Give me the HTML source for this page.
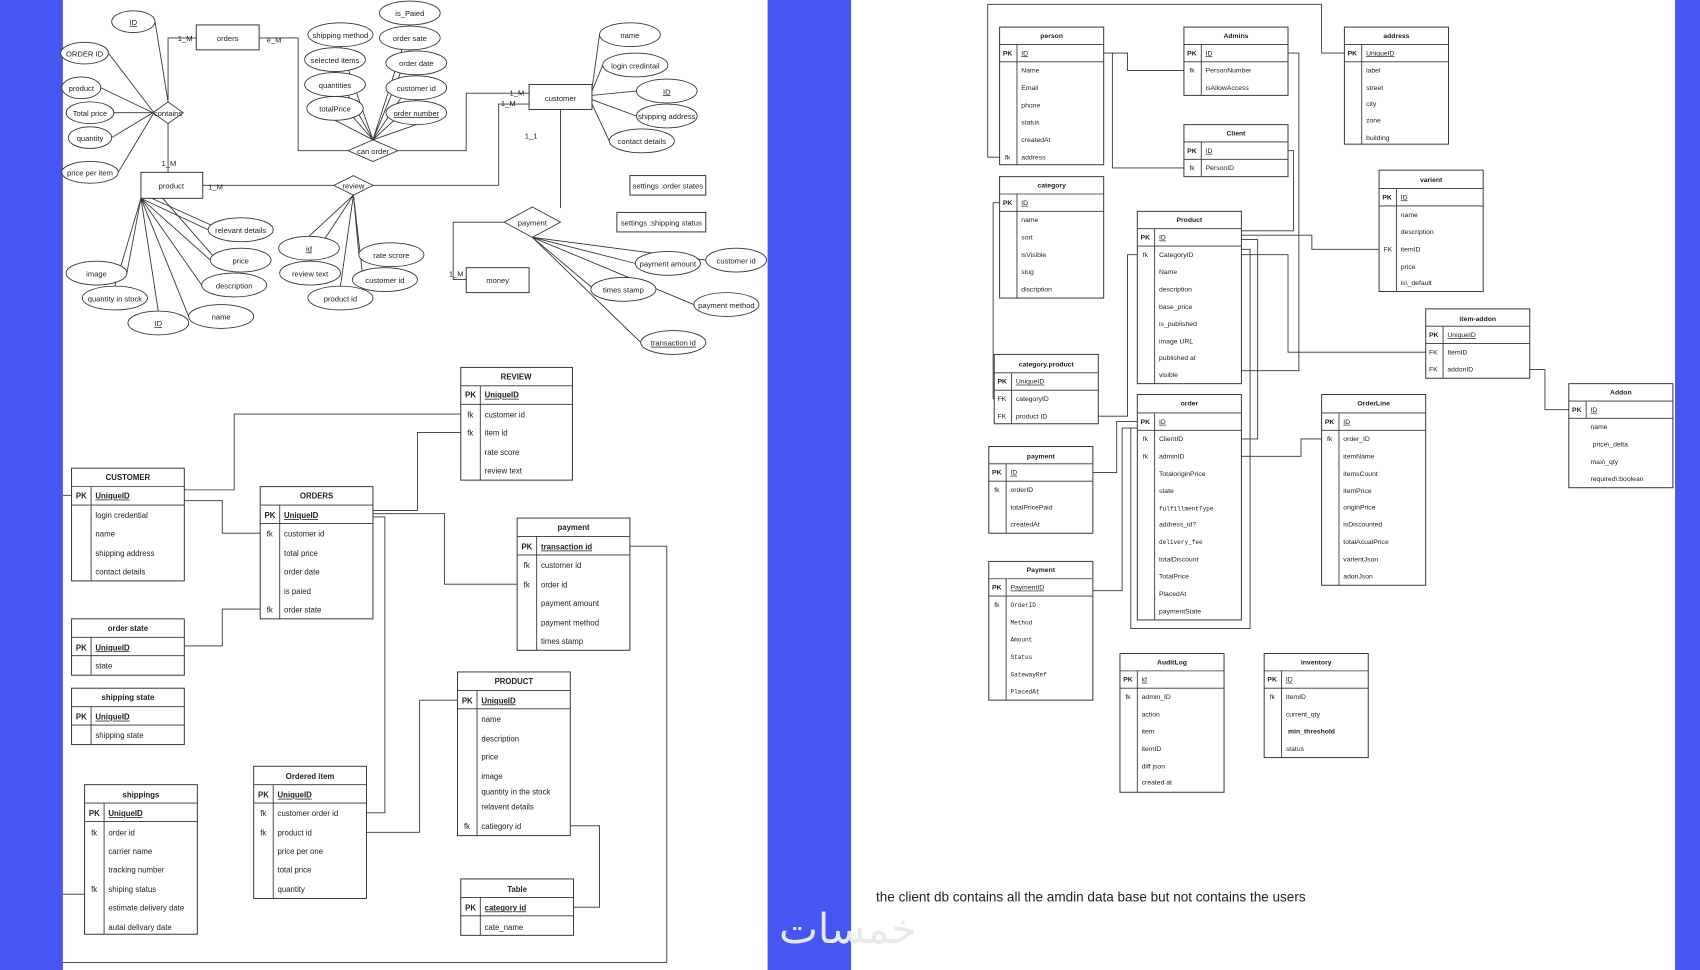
<!DOCTYPE html>
<html><head><meta charset="utf-8"><style>
html,body{margin:0;padding:0;background:#fff;}
svg{display:block}
text{font-family:"Liberation Sans",sans-serif;fill:#222}
.l text{font-size:7.2px}
.r text{font-size:6.3px}
.b{font-weight:bold}
.u{text-decoration:underline}
.m{font-family:"Liberation Mono",monospace !important;font-size:5.6px !important}
rect.t{fill:#fff;stroke:#333;stroke-width:.9}
line,polyline,path{stroke:#333;stroke-width:.8;fill:none}
ellipse{fill:#fff;stroke:#333;stroke-width:.8}
.er text{font-size:7px}
</style></head><body>
<svg width="1700" height="970" viewBox="0 0 1568 895" preserveAspectRatio="none" xmlns="http://www.w3.org/2000/svg">
<rect x="0" y="0" width="1568" height="895" fill="#fff"/>
<rect x="0" y="0" width="58" height="895" fill="#4556f2"/>
<rect x="708" y="0" width="77" height="895" fill="#4556f2"/>
<rect x="1545" y="0" width="23" height="895" fill="#4556f2"/>

<!-- ER diagram top-left -->
<g class="er">
<g>
<line x1="143" y1="20" x2="155" y2="94"/><line x1="100" y1="49" x2="142" y2="104"/><line x1="93" y1="81" x2="141" y2="104"/><line x1="105" y1="104" x2="141" y2="104"/><line x1="103" y1="127" x2="141" y2="104"/><line x1="109" y1="159" x2="142" y2="104"/>
<polyline points="155,94 155,35 181,35"/><polyline points="155,114 155,159"/>
<line x1="344" y1="129" x2="314" y2="43"/><line x1="344" y1="129" x2="309" y2="66"/><line x1="344" y1="129" x2="309" y2="89"/><line x1="344" y1="129" x2="309" y2="111"/>
<line x1="344" y1="129" x2="378" y2="23"/><line x1="344" y1="129" x2="378" y2="46"/><line x1="344" y1="129" x2="384" y2="69"/><line x1="344" y1="129" x2="384" y2="92"/><line x1="344" y1="129" x2="384" y2="115"/>
<polyline points="321,139 275,139 275,35 239,35"/><polyline points="367,139 430,139 430,86 488,86"/>
<polyline points="344,171 460,171 460,96 488,96"/><polyline points="308,171 187,171"/>
<line x1="546" y1="82" x2="553" y2="32"/><line x1="546" y1="84" x2="556" y2="60"/><line x1="546" y1="88" x2="587" y2="84"/><line x1="546" y1="92" x2="587" y2="107"/><line x1="546" y1="96" x2="562" y2="130"/>
<line x1="326" y1="180" x2="285" y2="218"/><line x1="326" y1="180" x2="286" y2="241"/><line x1="326" y1="180" x2="314" y2="264"/><line x1="326" y1="180" x2="331" y2="235"/><line x1="326" y1="180" x2="335" y2="258"/>
<line x1="130" y1="183" x2="192" y2="212"/><line x1="130" y1="183" x2="194" y2="240"/><line x1="130" y1="183" x2="186" y2="263"/><line x1="130" y1="183" x2="117" y2="252"/><line x1="130" y1="183" x2="106" y2="264"/><line x1="130" y1="183" x2="146" y2="287"/><line x1="130" y1="183" x2="174" y2="292"/>
<line x1="140" y1="183" x2="200" y2="210"/><line x1="150" y1="183" x2="200" y2="240"/>
<polyline points="517,192 517,101"/><polyline points="465,205 418,205 418,258 430,258"/>
<line x1="491" y1="219" x2="586" y2="243"/><line x1="491" y1="219" x2="651" y2="240"/><line x1="491" y1="219" x2="548" y2="267"/><line x1="491" y1="219" x2="640" y2="281"/><line x1="491" y1="219" x2="591" y2="316"/>
</g>
<rect class="t" x="181" y="23" width="58" height="23"/><text x="210" y="38" text-anchor="middle">orders</text>
<rect class="t" x="488" y="78" width="58" height="23"/><text x="517" y="93" text-anchor="middle">customer</text>
<rect class="t" x="130" y="159" width="57" height="24"/><text x="158" y="174" text-anchor="middle">product</text>
<rect class="t" x="430" y="247" width="58" height="23"/><text x="459" y="261" text-anchor="middle">money</text>
<polygon points="141,104 155,94 169,104 155,114" fill="#fff" stroke="#333" stroke-width=".8"/><text x="155" y="107" text-anchor="middle">contains</text>
<polygon points="321,139 344,129 367,139 344,149" fill="#fff" stroke="#333" stroke-width=".8"/><text x="344" y="142" text-anchor="middle">can order</text>
<polygon points="308,171 326,162 344,171 326,180" fill="#fff" stroke="#333" stroke-width=".8"/><text x="326" y="174" text-anchor="middle">review</text>
<polygon points="465,205 491,191 517,205 491,219" fill="#fff" stroke="#333" stroke-width=".8"/><text x="491" y="208" text-anchor="middle">payment</text>
<g text-anchor="middle">
<ellipse cx="123" cy="20" rx="20" ry="10"/><text x="123" y="23" class="u">ID</text>
<ellipse cx="78" cy="49" rx="22" ry="10"/><text x="78" y="52">ORDER ID</text>
<ellipse cx="75" cy="81" rx="18" ry="10"/><text x="75" y="84">product</text>
<ellipse cx="83" cy="104" rx="22" ry="10"/><text x="83" y="107">Total price</text>
<ellipse cx="83" cy="127" rx="20" ry="10"/><text x="83" y="130">quantity</text>
<ellipse cx="83" cy="159" rx="26" ry="10"/><text x="83" y="162">price per item</text>
<ellipse cx="314" cy="32" rx="30" ry="11"/><text x="314" y="35">shipping method</text>
<ellipse cx="309" cy="55" rx="28" ry="11"/><text x="309" y="58">selected items</text>
<ellipse cx="309" cy="78" rx="28" ry="11"/><text x="309" y="81">quantities</text>
<ellipse cx="309" cy="100" rx="26" ry="11"/><text x="309" y="103">totalPrice</text>
<ellipse cx="378" cy="12" rx="28" ry="11"/><text x="378" y="15">is_Paied</text>
<ellipse cx="378" cy="35" rx="28" ry="11"/><text x="378" y="38">order sate</text>
<ellipse cx="384" cy="58" rx="28" ry="11"/><text x="384" y="61">order date</text>
<ellipse cx="384" cy="81" rx="28" ry="11"/><text x="384" y="84">customer id</text>
<ellipse cx="384" cy="104" rx="28" ry="11"/><text x="384" y="107" class="u">order number</text>
<ellipse cx="581" cy="32" rx="28" ry="11"/><text x="581" y="35">name</text>
<ellipse cx="586" cy="60" rx="30" ry="11"/><text x="586" y="63">login credintail</text>
<ellipse cx="615" cy="84" rx="28" ry="11"/><text x="615" y="87" class="u">ID</text>
<ellipse cx="615" cy="107" rx="28" ry="11"/><text x="615" y="110">shipping address</text>
<ellipse cx="592" cy="130" rx="30" ry="11"/><text x="592" y="133">contact details</text>
<ellipse cx="222" cy="212" rx="30" ry="11"/><text x="222" y="215">relevant details</text>
<ellipse cx="222" cy="240" rx="28" ry="11"/><text x="222" y="243">price</text>
<ellipse cx="216" cy="263" rx="30" ry="11"/><text x="216" y="266">description</text>
<ellipse cx="89" cy="252" rx="28" ry="11"/><text x="89" y="255">image</text>
<ellipse cx="106" cy="275" rx="30" ry="11"/><text x="106" y="278">quantity in stock</text>
<ellipse cx="146" cy="298" rx="28" ry="11"/><text x="146" y="301" class="u">ID</text>
<ellipse cx="204" cy="292" rx="30" ry="11"/><text x="204" y="295">name</text>
<ellipse cx="285" cy="229" rx="28" ry="11"/><text x="285" y="232" class="u">id</text>
<ellipse cx="286" cy="252" rx="28" ry="11"/><text x="286" y="255">review text</text>
<ellipse cx="314" cy="275" rx="30" ry="11"/><text x="314" y="278">product id</text>
<ellipse cx="361" cy="235" rx="30" ry="11"/><text x="361" y="238">rate scrore</text>
<ellipse cx="355" cy="258" rx="30" ry="11"/><text x="355" y="261">customer id</text>
<ellipse cx="616" cy="243" rx="30" ry="11"/><text x="616" y="246">payment amount</text>
<ellipse cx="679" cy="240" rx="28" ry="11"/><text x="679" y="243">customer id</text>
<ellipse cx="575" cy="267" rx="30" ry="11"/><text x="575" y="270">times stamp</text>
<ellipse cx="670" cy="281" rx="30" ry="11"/><text x="670" y="284">payment method</text>
<ellipse cx="621" cy="316" rx="30" ry="11"/><text x="621" y="319" class="u">transaction id</text>
</g>
<rect class="t" x="581" y="162" width="70" height="18"/><text x="616" y="174" text-anchor="middle">settings :order states</text>
<rect class="t" x="569" y="196" width="82" height="18"/><text x="610" y="208" text-anchor="middle">settings :shipping status</text>
<text x="164" y="38">1_M</text><text x="246" y="39">e_M</text><text x="149" y="153">1_M</text><text x="192" y="175">1_M</text>
<text x="470" y="88">1_M</text><text x="462" y="98">1_M</text><text x="484" y="128">1_1</text><text x="414" y="255">1_M</text>
</g>

<!-- Bottom-left tables -->
<g class="l">
<g>
<polyline points="170,452 216,452 216,382 425,382"/>
<polyline points="170,462 205,462 205,492 240,492"/>
<polyline points="170,596 205,596 205,562 240,562"/>
<polyline points="344,471 385,471 385,399 425,399"/>
<polyline points="344,474 410,474 410,539 477,539"/>
<polyline points="344,477 355,477 355,750 338,750"/>
<polyline points="338,768 387,768 387,646 422,646"/>
<polyline points="526,762 553,762 553,837 529,837"/>
<polyline points="581,504 615,504 615,888 58,888"/>
<polyline points="58,825 78,825"/>
<polyline points="58,457 66,457"/>
</g>
<!-- REVIEW -->
<rect class="t" x="425" y="339" width="103" height="104"/><line x1="425" y1="356" x2="528" y2="356"/><line x1="425" y1="373" x2="528" y2="373"/><line x1="443" y1="356" x2="443" y2="443"/>
<text x="476" y="350" text-anchor="middle" class="b">REVIEW</text><text x="429" y="367" class="b">PK</text><text x="447" y="367" class="b u">UniqueID</text>
<text x="431" y="385">fk</text><text x="447" y="385">customer id</text><text x="431" y="402">fk</text><text x="447" y="402">item id</text><text x="447" y="420">rate score</text><text x="447" y="437">review text</text>
<!-- CUSTOMER -->
<rect class="t" x="66" y="432" width="104" height="104"/><line x1="66" y1="449" x2="170" y2="449"/><line x1="66" y1="466" x2="170" y2="466"/><line x1="84" y1="449" x2="84" y2="536"/>
<text x="118" y="443" text-anchor="middle" class="b">CUSTOMER</text><text x="70" y="460" class="b">PK</text><text x="88" y="460" class="b u">UniqueID</text>
<text x="88" y="478">login credential</text><text x="88" y="495">name</text><text x="88" y="513">shipping address</text><text x="88" y="530">contact details</text>
<!-- ORDERS -->
<rect class="t" x="240" y="449" width="104" height="122"/><line x1="240" y1="466" x2="344" y2="466"/><line x1="240" y1="483" x2="344" y2="483"/><line x1="258" y1="466" x2="258" y2="571"/>
<text x="292" y="460" text-anchor="middle" class="b">ORDERS</text><text x="244" y="478" class="b">PK</text><text x="262" y="478" class="b u">UniqueID</text>
<text x="246" y="495">fk</text><text x="262" y="495">customer id</text><text x="262" y="513">total price</text><text x="262" y="530">order date</text><text x="262" y="548">is paied</text><text x="246" y="565">fk</text><text x="262" y="565">order state</text>
<!-- payment -->
<rect class="t" x="477" y="478" width="104" height="122"/><line x1="477" y1="495" x2="581" y2="495"/><line x1="477" y1="512" x2="581" y2="512"/><line x1="495" y1="495" x2="495" y2="600"/>
<text x="529" y="489" text-anchor="middle" class="b">payment</text><text x="481" y="507" class="b">PK</text><text x="499" y="507" class="b u">transaction id</text>
<text x="483" y="524">fk</text><text x="499" y="524">customer id</text><text x="483" y="542">fk</text><text x="499" y="542">order id</text><text x="499" y="559">payment amount</text><text x="499" y="577">payment method</text><text x="499" y="594">times stamp</text>
<!-- order state -->
<rect class="t" x="66" y="571" width="104" height="52"/><line x1="66" y1="588" x2="170" y2="588"/><line x1="66" y1="605" x2="170" y2="605"/><line x1="84" y1="588" x2="84" y2="623"/>
<text x="118" y="582" text-anchor="middle" class="b">order state</text><text x="70" y="600" class="b">PK</text><text x="88" y="600" class="b u">UniqueID</text><text x="88" y="617">state</text>
<!-- shipping state -->
<rect class="t" x="66" y="635" width="104" height="52"/><line x1="66" y1="652" x2="170" y2="652"/><line x1="66" y1="669" x2="170" y2="669"/><line x1="84" y1="652" x2="84" y2="687"/>
<text x="118" y="646" text-anchor="middle" class="b">shipping state</text><text x="70" y="664" class="b">PK</text><text x="88" y="664" class="b u">UniqueID</text><text x="88" y="681">shipping state</text>
<!-- PRODUCT -->
<rect class="t" x="422" y="620" width="104" height="151"/><line x1="422" y1="637" x2="526" y2="637"/><line x1="422" y1="654" x2="526" y2="654"/><line x1="440" y1="637" x2="440" y2="771"/>
<text x="474" y="631" text-anchor="middle" class="b">PRODUCT</text><text x="426" y="649" class="b">PK</text><text x="444" y="649" class="b u">UniqueID</text>
<text x="444" y="666">name</text><text x="444" y="684">description</text><text x="444" y="701">price</text><text x="444" y="719">image</text><text x="444" y="733">quantity in the stock</text><text x="444" y="747">relavent details</text><text x="428" y="765">fk</text><text x="444" y="765">catiegory id</text>
<!-- Ordered item -->
<rect class="t" x="234" y="707" width="104" height="122"/><line x1="234" y1="724" x2="338" y2="724"/><line x1="234" y1="741" x2="338" y2="741"/><line x1="252" y1="724" x2="252" y2="829"/>
<text x="286" y="719" text-anchor="middle" class="b">Ordered item</text><text x="238" y="736" class="b">PK</text><text x="256" y="736" class="b u">UniqueID</text>
<text x="240" y="753">fk</text><text x="256" y="753">customer order id</text><text x="240" y="771">fk</text><text x="256" y="771">product id</text><text x="256" y="788">price per one</text><text x="256" y="805">total price</text><text x="256" y="823">quantity</text>
<!-- shippings -->
<rect class="t" x="78" y="724" width="104" height="138"/><line x1="78" y1="741" x2="182" y2="741"/><line x1="78" y1="758" x2="182" y2="758"/><line x1="96" y1="741" x2="96" y2="862"/>
<text x="130" y="736" text-anchor="middle" class="b">shippings</text><text x="82" y="753" class="b">PK</text><text x="100" y="753" class="b u">UniqueID</text>
<text x="84" y="771">fk</text><text x="100" y="771">order id</text><text x="100" y="788">carrier name</text><text x="100" y="805">tracking number</text><text x="84" y="823">fk</text><text x="100" y="823">shiping status</text><text x="100" y="840">estimate delivery date</text><text x="100" y="858">autal delivary date</text>
<!-- Table -->
<rect class="t" x="425" y="811" width="104" height="52"/><line x1="425" y1="828" x2="529" y2="828"/><line x1="425" y1="845" x2="529" y2="845"/><line x1="443" y1="828" x2="443" y2="863"/>
<text x="477" y="823" text-anchor="middle" class="b">Table</text><text x="429" y="840" class="b">PK</text><text x="447" y="840" class="b u">category id</text><text x="447" y="858">cate_name</text>
</g>

<!-- Right side -->
<g class="r">
<g>
<polyline points="922,145 911,145 911,4 1219,4 1219,49 1240,49"/>
<polyline points="1018,49 1040,49 1040,65 1092,65"/>
<polyline points="1026,49 1026,155 1092,155"/>
<polyline points="1188,49 1198,49 1198,342 1145,342"/>
<polyline points="1188,139 1193,139 1193,213 1145,213"/>
<polyline points="1145,217 1210,217 1210,230 1272,230"/>
<polyline points="1145,221 1160,221 1160,405 1145,405"/>
<polyline points="922,187 916,187 916,368 917,368"/>
<polyline points="1049,235 1040,235 1040,384 1013,384"/>
<polyline points="1145,235 1188,235 1188,325 1315,325"/>
<polyline points="1145,421 1200,421 1200,405 1219,405"/>
<polyline points="1411,341 1425,341 1425,378 1447,378"/>
<polyline points="1049,389 1030,389 1030,436 1008,436"/>
<polyline points="1049,395 1035,395 1035,545 1008,545"/>
<polyline points="1145,230 1153,230 1153,580 1043,580 1043,395"/>
</g>
<!-- person -->
<rect class="t" x="922" y="25" width="96" height="127"/><line x1="922" y1="41" x2="1018" y2="41"/><line x1="922" y1="57" x2="1018" y2="57"/><line x1="938" y1="41" x2="938" y2="152"/>
<text x="970" y="35" text-anchor="middle" class="b">person</text><text x="925" y="51" class="b">PK</text><text x="942" y="51" class="u">ID</text>
<text x="942" y="67">Name</text><text x="942" y="83">Email</text><text x="942" y="99">phone</text><text x="942" y="115">status</text><text x="942" y="131">createdAt</text><text x="927" y="147">fk</text><text x="942" y="147">address</text>
<!-- Admins -->
<rect class="t" x="1092" y="25" width="96" height="63"/><line x1="1092" y1="41" x2="1188" y2="41"/><line x1="1092" y1="57" x2="1188" y2="57"/><line x1="1108" y1="41" x2="1108" y2="88"/>
<text x="1140" y="35" text-anchor="middle" class="b">Admins</text><text x="1095" y="51" class="b">PK</text><text x="1112" y="51" class="u">ID</text>
<text x="1097" y="67">fk</text><text x="1112" y="67">PersonNumber</text><text x="1112" y="83">isAllowAccess</text>
<!-- address -->
<rect class="t" x="1240" y="25" width="96" height="108"/><line x1="1240" y1="41" x2="1336" y2="41"/><line x1="1240" y1="57" x2="1336" y2="57"/><line x1="1256" y1="41" x2="1256" y2="133"/>
<text x="1288" y="35" text-anchor="middle" class="b">address</text><text x="1243" y="51" class="b">PK</text><text x="1260" y="51" class="u">UniqueID</text>
<text x="1260" y="67">label</text><text x="1260" y="83">street</text><text x="1260" y="98">city</text><text x="1260" y="113">zone</text><text x="1260" y="129">building</text>
<!-- Client -->
<rect class="t" x="1092" y="115" width="96" height="48"/><line x1="1092" y1="131" x2="1188" y2="131"/><line x1="1092" y1="147" x2="1188" y2="147"/><line x1="1108" y1="131" x2="1108" y2="163"/>
<text x="1140" y="125" text-anchor="middle" class="b">Client</text><text x="1095" y="141" class="b">PK</text><text x="1112" y="141" class="u">ID</text><text x="1097" y="157">fk</text><text x="1112" y="157">PersonID</text>
<!-- category -->
<rect class="t" x="922" y="163" width="96" height="112"/><line x1="922" y1="179" x2="1018" y2="179"/><line x1="922" y1="195" x2="1018" y2="195"/><line x1="938" y1="179" x2="938" y2="275"/>
<text x="970" y="173" text-anchor="middle" class="b">category</text><text x="925" y="189" class="b">PK</text><text x="942" y="189" class="u">ID</text>
<text x="942" y="205">name</text><text x="942" y="221">sort</text><text x="942" y="237">isVisible</text><text x="942" y="253">slug</text><text x="942" y="269">discription</text>
<!-- varient -->
<rect class="t" x="1272" y="157" width="96" height="112"/><line x1="1272" y1="174" x2="1368" y2="174"/><line x1="1272" y1="190" x2="1368" y2="190"/><line x1="1288" y1="174" x2="1288" y2="269"/>
<text x="1320" y="168" text-anchor="middle" class="b">varient</text><text x="1275" y="184" class="b">PK</text><text x="1292" y="184" class="u">ID</text>
<text x="1292" y="200">name</text><text x="1292" y="216">description</text><text x="1276" y="232">FK</text><text x="1292" y="232">itemID</text><text x="1292" y="248">price</text><text x="1292" y="263">is\_default</text>
<!-- Product -->
<rect class="t" x="1049" y="195" width="96" height="159"/><line x1="1049" y1="211" x2="1145" y2="211"/><line x1="1049" y1="227" x2="1145" y2="227"/><line x1="1065" y1="211" x2="1065" y2="354"/>
<text x="1097" y="205" text-anchor="middle" class="b">Product</text><text x="1052" y="221" class="b">PK</text><text x="1069" y="221" class="u">ID</text>
<text x="1054" y="237">fk</text><text x="1069" y="237">CategoryID</text><text x="1069" y="253">Name</text><text x="1069" y="269">description</text><text x="1069" y="285">base_price</text><text x="1069" y="301">is_published</text><text x="1069" y="317">image URL</text><text x="1069" y="332">published at</text><text x="1069" y="348">visible</text>
<!-- category.product -->
<rect class="t" x="917" y="327" width="96" height="64"/><line x1="917" y1="344" x2="1013" y2="344"/><line x1="917" y1="360" x2="1013" y2="360"/><line x1="933" y1="344" x2="933" y2="391"/>
<text x="965" y="338" text-anchor="middle" class="b">category.product</text><text x="920" y="354" class="b">PK</text><text x="937" y="354" class="u">UniqueID</text>
<text x="920" y="370">FK</text><text x="937" y="370">categoryID</text><text x="920" y="386">FK</text><text x="937" y="386">product ID</text>
<!-- item-addon -->
<rect class="t" x="1315" y="285" width="96" height="64"/><line x1="1315" y1="301" x2="1411" y2="301"/><line x1="1315" y1="317" x2="1411" y2="317"/><line x1="1331" y1="301" x2="1331" y2="349"/>
<text x="1363" y="296" text-anchor="middle" class="b">item-addon</text><text x="1318" y="311" class="b">PK</text><text x="1335" y="311" class="u">UniqueID</text>
<text x="1318" y="327">FK</text><text x="1335" y="327">ItemID</text><text x="1318" y="343">FK</text><text x="1335" y="343">addonID</text>
<!-- Addon -->
<rect class="t" x="1447" y="354" width="96" height="96"/><line x1="1447" y1="370" x2="1543" y2="370"/><line x1="1447" y1="386" x2="1543" y2="386"/><line x1="1463" y1="370" x2="1463" y2="386"/>
<text x="1495" y="364" text-anchor="middle" class="b">Addon</text><text x="1450" y="380" class="b">PK</text><text x="1467" y="380" class="u">ID</text>
<text x="1467" y="396">name</text><text x="1469" y="412">price\_delta</text><text x="1467" y="428">max\_qty</text><text x="1467" y="444">required\:boolean</text>
<!-- order -->
<rect class="t" x="1049" y="364" width="96" height="208"/><line x1="1049" y1="381" x2="1145" y2="381"/><line x1="1049" y1="397" x2="1145" y2="397"/><line x1="1065" y1="381" x2="1065" y2="572"/>
<text x="1097" y="374" text-anchor="middle" class="b">order</text><text x="1052" y="391" class="b">PK</text><text x="1069" y="391" class="u">ID</text>
<text x="1054" y="407">fk</text><text x="1069" y="407">ClientID</text><text x="1054" y="423">fk</text><text x="1069" y="423">adminID</text><text x="1069" y="439">TotaloriginPrice</text><text x="1069" y="455">state</text><text x="1069" y="471" class="m">fulfillmentType</text><text x="1069" y="486">address_id?</text><text x="1069" y="502" class="m">delivery_fee</text><text x="1069" y="518">totalDiscount</text><text x="1069" y="534">TotalPrice</text><text x="1069" y="550">PlacedAt</text><text x="1069" y="566">paymentState</text>
<!-- OrderLine -->
<rect class="t" x="1219" y="364" width="96" height="176"/><line x1="1219" y1="381" x2="1315" y2="381"/><line x1="1219" y1="397" x2="1315" y2="397"/><line x1="1235" y1="381" x2="1235" y2="540"/>
<text x="1267" y="374" text-anchor="middle" class="b">OrderLine</text><text x="1222" y="391" class="b">PK</text><text x="1239" y="391" class="u">ID</text>
<text x="1224" y="407">fk</text><text x="1239" y="407">order_ID</text><text x="1239" y="423">itemName</text><text x="1239" y="439">itemsCount</text><text x="1239" y="455">itemPrice</text><text x="1239" y="470">originPrice</text><text x="1239" y="486">isDiscounted</text><text x="1239" y="502">totalAcualPrice</text><text x="1239" y="518">varientJson</text><text x="1239" y="534">adonJson</text>
<!-- payment right -->
<rect class="t" x="912" y="412" width="96" height="80"/><line x1="912" y1="428" x2="1008" y2="428"/><line x1="912" y1="444" x2="1008" y2="444"/><line x1="928" y1="428" x2="928" y2="492"/>
<text x="960" y="423" text-anchor="middle" class="b">payment</text><text x="915" y="438" class="b">PK</text><text x="932" y="438" class="u">ID</text>
<text x="917" y="454">fk</text><text x="932" y="454">orderID</text><text x="932" y="470">totalPricePaid</text><text x="932" y="486">createdAt</text>
<!-- Payment -->
<rect class="t" x="912" y="518" width="96" height="128"/><line x1="912" y1="534" x2="1008" y2="534"/><line x1="912" y1="550" x2="1008" y2="550"/><line x1="928" y1="534" x2="928" y2="646"/>
<text x="960" y="528" text-anchor="middle" class="b">Payment</text><text x="915" y="544" class="b">PK</text><text x="932" y="544" class="u">PaymentID</text>
<text x="917" y="560">fk</text><text x="932" y="560" class="m">OrderID</text><text x="932" y="576" class="m">Method</text><text x="932" y="592" class="m">Amount</text><text x="932" y="608" class="m">Status</text><text x="932" y="624" class="m">GatewayRef</text><text x="932" y="640" class="m">PlacedAt</text>
<!-- AuditLog -->
<rect class="t" x="1033" y="603" width="96" height="128"/><line x1="1033" y1="619" x2="1129" y2="619"/><line x1="1033" y1="635" x2="1129" y2="635"/><line x1="1049" y1="619" x2="1049" y2="731"/>
<text x="1081" y="613" text-anchor="middle" class="b">AuditLog</text><text x="1036" y="629" class="b">PK</text><text x="1053" y="629" class="u">id</text>
<text x="1038" y="645">fk</text><text x="1053" y="645">admin_ID</text><text x="1053" y="661">action</text><text x="1053" y="677">item</text><text x="1053" y="693">itemID</text><text x="1053" y="709">diff json</text><text x="1053" y="724">created at</text>
<!-- inventory -->
<rect class="t" x="1166" y="603" width="96" height="96"/><line x1="1166" y1="619" x2="1262" y2="619"/><line x1="1166" y1="635" x2="1262" y2="635"/><line x1="1182" y1="619" x2="1182" y2="699"/>
<text x="1214" y="613" text-anchor="middle" class="b">inventory</text><text x="1169" y="629" class="b">PK</text><text x="1186" y="629" class="u">ID</text>
<text x="1171" y="645">fk</text><text x="1186" y="645">ItemID</text><text x="1186" y="661">current_qty</text><text x="1188" y="677" class="b">min_threshold</text><text x="1186" y="693">status</text>
</g>
<text x="808" y="832" style="font-size:12.5px">the client db contains all the amdin data base but not contains the users</text>
<text x="782" y="870" text-anchor="middle" style="font-size:38px;fill:#e8e8e8;font-family:'DejaVu Sans',sans-serif">خمسات</text>
</svg>
</body></html>
